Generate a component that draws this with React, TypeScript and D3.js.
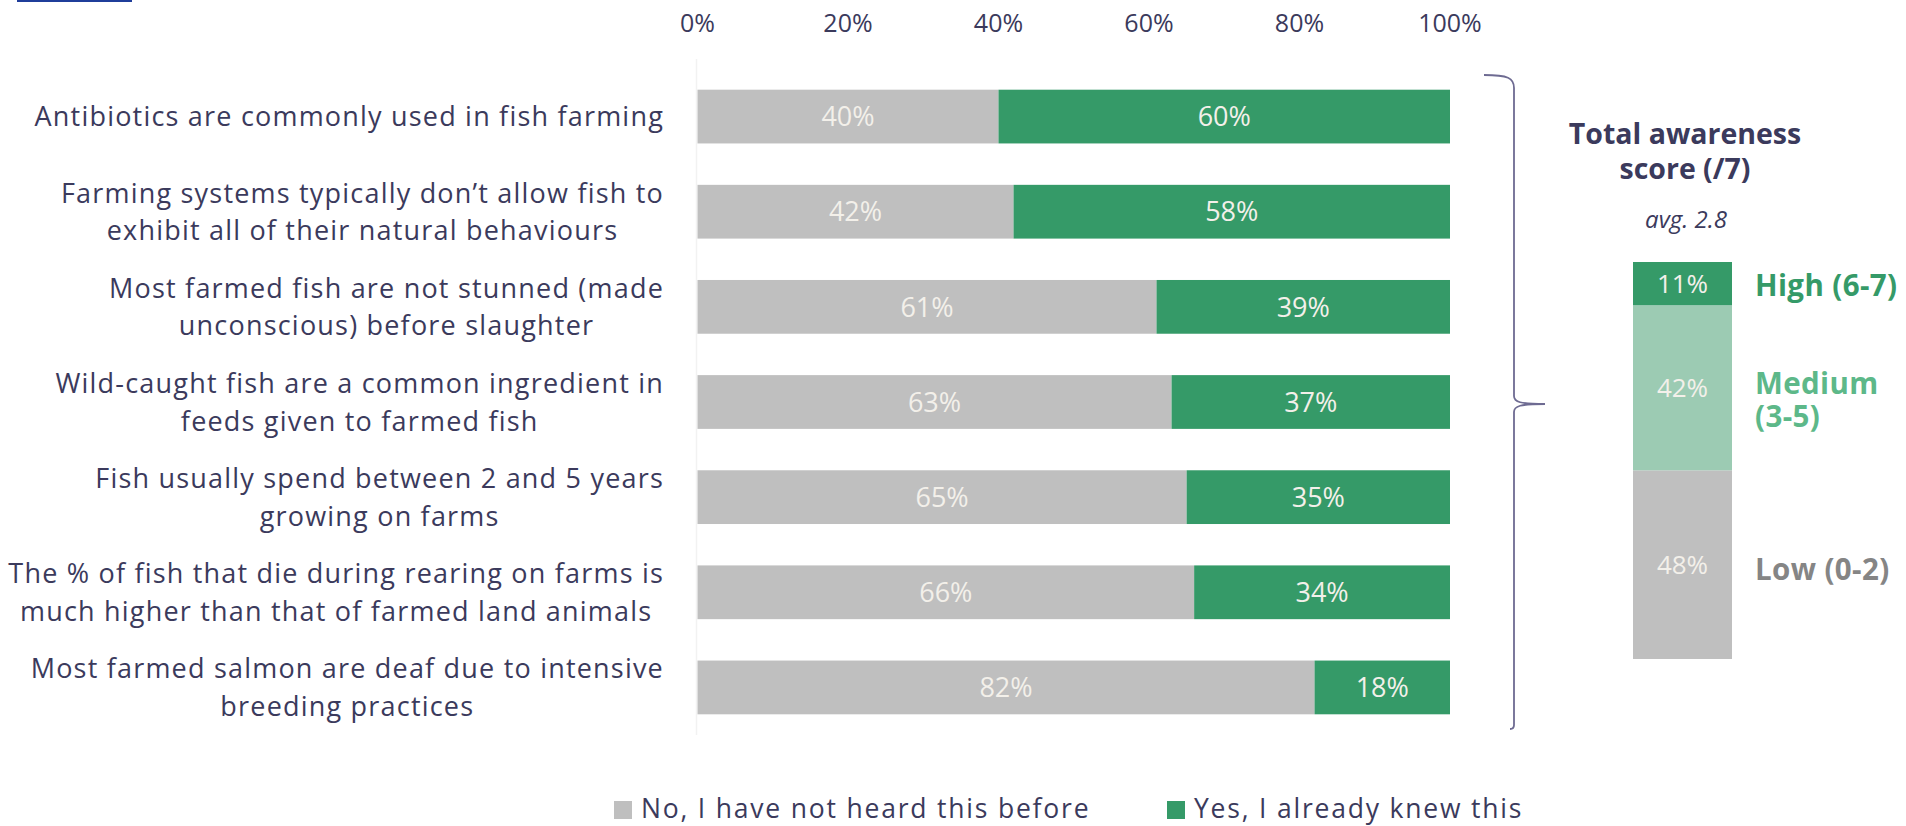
import React, { useEffect, useRef } from 'react';
import * as d3 from 'd3';

const categories: string[][] = [
  ['Antibiotics are commonly used in fish farming'],
  ['Farming systems typically don’t allow fish to', 'exhibit all of their natural behaviours'],
  ['Most farmed fish are not stunned (made', 'unconscious) before slaughter'],
  ['Wild-caught fish are a common ingredient in', 'feeds given to farmed fish'],
  ['Fish usually spend between 2 and 5 years', 'growing on farms'],
  ['The % of fish that die during rearing on farms is', 'much higher than that of farmed land animals'],
  ['Most farmed salmon are deaf due to intensive', 'breeding practices'],
];
const noValues = [40, 42, 61, 63, 65, 66, 82];
const yesValues = [60, 58, 39, 37, 35, 34, 18];
const xTicks = [0, 20, 40, 60, 80, 100];
const legendLabels = ['No, I have not heard this before', 'Yes, I already knew this'];

const scoreTitle = ['Total awareness', 'score (/7)'];
const scoreSubtitle = 'avg. 2.8';
const scoreLabels: string[][] = [['Low (0-2)'], ['Medium', '(3-5)'], ['High (6-7)']];
const scoreValues = [48, 42, 11];

const W = 1906;
const H = 826;
const TEXT = '#3b3a5c';
const GRAY = '#bfbfbf';
const GREEN = '#359a68';
const LIGHTGREEN = '#9ccbb3';
const VALTEXT = '#f3f0ea';
const FONT = '"Open Sans", sans-serif';
const scoreFill = [GRAY, LIGHTGREEN, GREEN];
const scoreTextColor = ['#858585', '#5db889', GREEN];

export default function App() {
  const ref = useRef<SVGSVGElement | null>(null);

  useEffect(() => {
    document.body.style.margin = '0';
    const draw = () => {
      const svg = d3.select(ref.current);
      svg.selectAll('*').remove();

      // decorative top-left accent
      svg.append('rect').attr('x', 17).attr('y', 0).attr('width', 115).attr('height', 2).attr('fill', '#1f3d9a');

      const x = d3.scaleLinear().domain([0, 100]).range([697.5, 1450]);
      const y = d3.scaleBand<number>()
        .domain(d3.range(categories.length))
        .range([69, 735])
        .paddingInner(0.435)
        .paddingOuter(0.2175);

      // faint axis line
      svg.append('line')
        .attr('x1', x(0) - 1).attr('x2', x(0) - 1)
        .attr('y1', y.range()[0] - 10).attr('y2', y.range()[1])
        .attr('stroke', '#f2f2f2').attr('stroke-width', 1.5);

      // top axis tick labels
      svg.append('g').selectAll('text').data(xTicks).join('text')
        .attr('x', (d) => x(d)).attr('y', 23).attr('dy', '0.36em')
        .attr('text-anchor', 'middle')
        .attr('font-family', FONT).attr('font-size', 25).attr('fill', TEXT)
        .text((d) => `${d}%`);

      // bars
      const rows = svg.append('g').selectAll('g').data(d3.range(categories.length)).join('g');
      rows.append('rect')
        .attr('x', x(0)).attr('y', (i) => y(i)!)
        .attr('width', (i) => x(noValues[i]) - x(0)).attr('height', y.bandwidth())
        .attr('fill', GRAY);
      rows.append('rect')
        .attr('x', (i) => x(noValues[i])).attr('y', (i) => y(i)!)
        .attr('width', (i) => x(noValues[i] + yesValues[i]) - x(noValues[i])).attr('height', y.bandwidth())
        .attr('fill', GREEN);
      rows.append('text')
        .attr('x', (i) => x(noValues[i] / 2)).attr('y', (i) => y(i)! + y.bandwidth() / 2)
        .attr('dy', '0.36em').attr('text-anchor', 'middle')
        .attr('font-family', FONT).attr('font-size', 27).attr('fill', VALTEXT)
        .text((i) => `${noValues[i]}%`);
      rows.append('text')
        .attr('x', (i) => x(noValues[i] + yesValues[i] / 2)).attr('y', (i) => y(i)! + y.bandwidth() / 2)
        .attr('dy', '0.36em').attr('text-anchor', 'middle')
        .attr('font-family', FONT).attr('font-size', 27).attr('fill', VALTEXT)
        .text((i) => `${yesValues[i]}%`);

      // category labels: block right-aligned, lines centered within block
      const labelRight = 664;
      const lineH = 37.7;
      categories.forEach((lines, i) => {
        const g = svg.append('g');
        const texts = g.selectAll('text').data(lines).join('text')
          .attr('font-family', FONT).attr('font-size', 27).attr('letter-spacing', 1.2)
          .attr('fill', TEXT).attr('text-anchor', 'middle')
          .text((d) => d);
        let maxW = 0;
        texts.each(function () {
          maxW = Math.max(maxW, (this as SVGTextElement).getComputedTextLength());
        });
        const cy = y(i)! + y.bandwidth() / 2;
        const cx = labelRight - maxW / 2;
        texts.attr('x', cx)
          .attr('y', (_d, j) => cy + (j - (lines.length - 1) / 2) * lineH)
          .attr('dy', '0.36em');
      });

      // brace
      const bx = 1514;
      const top = 75;
      const bot = 729;
      const mid = 404;
      const path = d3.path();
      path.moveTo(1484, top);
      path.bezierCurveTo(1508, top, bx, top + 3, bx, top + 13);
      path.lineTo(bx, mid - 8);
      path.bezierCurveTo(bx, mid - 2, bx + 6, mid, bx + 31, mid);
      path.moveTo(bx + 31, mid);
      path.bezierCurveTo(bx + 6, mid, bx, mid + 2, bx, mid + 8);
      path.lineTo(bx, bot - 4);
      path.bezierCurveTo(bx, bot - 1, bx - 1, bot, bx - 4, bot);
      svg.append('path').attr('d', path.toString()).attr('fill', 'none')
        .attr('stroke', '#6e6b92').attr('stroke-width', 1.8);

      // score block
      const sx0 = 1633;
      const sx1 = 1732;
      const scx = (sx0 + sx1) / 2;
      svg.append('g').selectAll('text').data(scoreTitle).join('text')
        .attr('x', 1685).attr('y', (_d, j) => 144 + j * 35)
        .attr('text-anchor', 'middle').attr('font-family', FONT).attr('font-weight', 700)
        .attr('font-size', 28.5).attr('fill', TEXT).text((d) => d);
      svg.append('text').attr('x', 1686).attr('y', 228).attr('text-anchor', 'middle')
        .attr('font-family', FONT).attr('font-style', 'italic').attr('font-size', 24)
        .attr('fill', TEXT).text(scoreSubtitle);

      const sy = d3.scaleLinear().domain([0, d3.sum(scoreValues)]).range([659, 262]);
      const cum = scoreValues.map((_v, i) => d3.sum(scoreValues.slice(0, i)));
      const sg = svg.append('g');
      sg.selectAll('rect').data(scoreValues).join('rect')
        .attr('x', sx0).attr('width', sx1 - sx0)
        .attr('y', (v, i) => sy(cum[i] + v)).attr('height', (v, i) => sy(cum[i]) - sy(cum[i] + v))
        .attr('fill', (_v, i) => scoreFill[i]);
      sg.selectAll('text.val').data(scoreValues).join('text').attr('class', 'val')
        .attr('x', scx).attr('y', (v, i) => (sy(cum[i]) + sy(cum[i] + v)) / 2)
        .attr('dy', '0.36em').attr('text-anchor', 'middle')
        .attr('font-family', FONT).attr('font-size', 26).attr('fill', VALTEXT)
        .text((v) => `${v}%`);
      scoreLabels.forEach((lines, i) => {
        const c = (sy(cum[i]) + sy(cum[i] + scoreValues[i])) / 2 + (lines.length > 1 ? 12 : i === 0 ? 5 : 2);
        sg.append('g').selectAll('text').data(lines).join('text')
          .attr('x', 1755)
          .attr('y', (_d, j) => c + (j - (lines.length - 1) / 2) * 33)
          .attr('dy', '0.36em')
          .attr('font-family', FONT).attr('font-weight', 700).attr('font-size', 29.5)
          .attr('letter-spacing', 0.4)
          .attr('fill', scoreTextColor[i]).text((d) => d);
      });

      // legend
      const lg = svg.append('g');
      const legendX = [614, 1167];
      const legendFill = [GRAY, GREEN];
      legendLabels.forEach((l, i) => {
        lg.append('rect').attr('x', legendX[i]).attr('y', 801).attr('width', 18).attr('height', 18)
          .attr('fill', legendFill[i]);
        lg.append('text').attr('x', legendX[i] + 27).attr('y', 818)
          .attr('font-family', FONT).attr('font-size', 26.5).attr('letter-spacing', 1.8)
          .attr('fill', TEXT).text(l);
      });
    };
    draw();
    if ((document as any).fonts && (document as any).fonts.ready) {
      (document as any).fonts.ready.then(draw);
    }
  }, []);

  return <svg ref={ref} width={W} height={H} style={{ display: 'block', background: '#fff' }} />;
}
